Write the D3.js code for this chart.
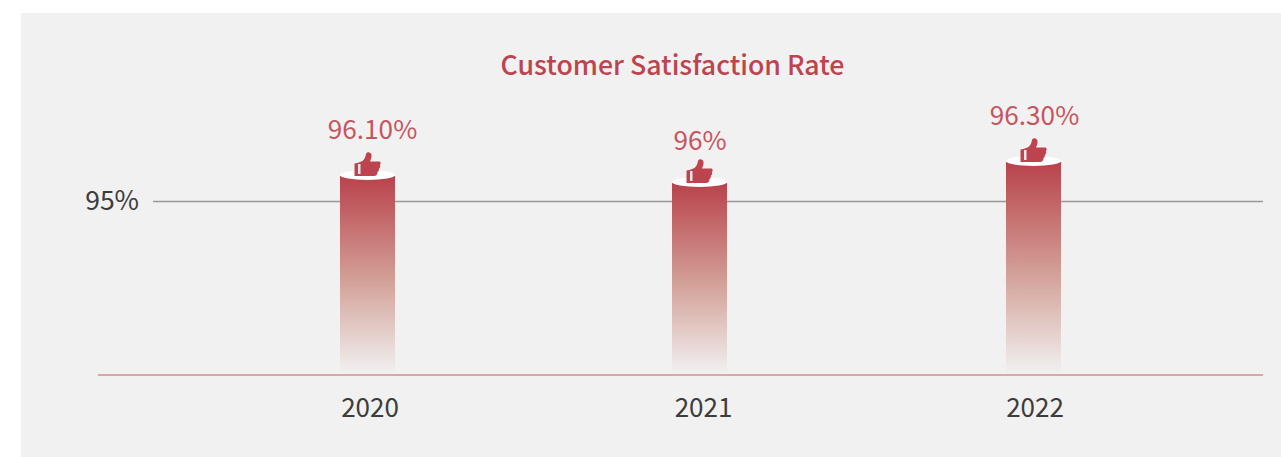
<!DOCTYPE html>
<html>
<head>
<meta charset="utf-8">
<script src="https://cdn.jsdelivr.net/npm/d3@7"></script>
<style>
  html, body { margin: 0; padding: 0; background: #fff; }
  svg { display: block; }
  text { font-family: "Noto Sans CJK SC", "Noto Sans", sans-serif; }
</style>
</head>
<body>
<div id="chartContainer"></div>
<script>
var WIDTH = 1281;
var HEIGHT = 457;
var RED = "#bd444e";
var PANEL = "#f1f1f1";

var years = ["2020", "2021", "2022"];
var rates = [96.1, 96, 96.3];
var rateLabels = ["96.10%", "96%", "96.30%"];
var yTicks = [95];
var yTickLabels = ["95%"];

var svg = d3.select("#chartContainer").append("svg")
  .attr("width", WIDTH)
  .attr("height", HEIGHT);

// grey panel
svg.append("rect")
  .attr("x", 21).attr("y", 13)
  .attr("width", WIDTH - 21).attr("height", HEIGHT - 13)
  .attr("fill", PANEL);

var grad = svg.append("defs").append("linearGradient")
  .attr("id", "barFill")
  .attr("x1", 0).attr("y1", 0).attr("x2", 0).attr("y2", 1);
grad.append("stop").attr("offset", "0%").attr("stop-color", "#b9424c");
grad.append("stop").attr("offset", "50%").attr("stop-color", "#d19c92");
grad.append("stop").attr("offset", "100%").attr("stop-color", PANEL);

var BAR_W = 55;
var x = d3.scaleOrdinal().domain(years).range([367.5, 699.5, 1033.5]);

// the source axis is not linear, 95% sits far above the bottom
var y = d3.scaleLinear()
  .domain([90, 95, 96, 96.3])
  .range([374, 201, 183, 162]);

// 95% line
var yAxis = d3.axisLeft(y)
  .tickValues(yTicks)
  .tickFormat(function (d, i) { return yTickLabels[i]; })
  .tickSize(0)
  .tickPadding(14);
var yG = svg.append("g")
  .attr("transform", "translate(153,0)")
  .call(yAxis);
yG.select(".domain").remove();
yG.selectAll("text")
  .style("font-size", "26.5px")
  .style("fill", "#3c3c3c");
svg.selectAll("line.grid")
  .data(yTicks)
  .enter().append("line")
  .attr("class", "grid")
  .attr("x1", 153).attr("x2", 1263)
  .attr("y1", function (d) { return y(d) + 0.5; })
  .attr("y2", function (d) { return y(d) + 0.5; })
  .attr("stroke", "#999")
  .attr("stroke-width", 1.5);

// bars
var data = years.map(function (d, i) {
  return { year: d, rate: rates[i], label: rateLabels[i] };
});

var bars = svg.selectAll("g.bar")
  .data(data)
  .enter().append("g")
  .attr("class", "bar")
  .attr("transform", function (d) { return "translate(" + x(d.year) + ",0)"; });

bars.append("rect")
  .attr("x", -BAR_W / 2)
  .attr("y", function (d) { return y(d.rate); })
  .attr("width", BAR_W)
  .attr("height", function (d) { return y(90) - y(d.rate); })
  .attr("fill", "url(#barFill)");

bars.append("ellipse")
  .attr("cx", 0)
  .attr("cy", function (d) { return y(d.rate) - 1; })
  .attr("rx", BAR_W / 2)
  .attr("ry", 5)
  .attr("fill", "#fff");

// thumbs up icon, 26 wide and 24 high, sits on the ellipse
var THUMB = "M0,11.5 L3,11 L8,9 C10,7 11,5 11.5,2 C12,-0.5 16.5,-0.5 17,3 C17.3,5 16.5,7 15.5,9.5 L24.5,9.5 C26.5,9.5 26.5,12 25.5,13 C26,14.5 25.5,16 24.5,16.5 C24.5,18 24,19.5 23,20 C23,22.5 21.5,24 19.5,24 L0,24 Z";
bars.append("path")
  .attr("d", THUMB)
  .attr("transform", function (d) { return "translate(-13," + (y(d.rate) - 24) + ")"; })
  .attr("fill", RED);
bars.append("rect")
  .attr("x", -9.5)
  .attr("y", function (d) { return y(d.rate) - 12; })
  .attr("width", 2.5)
  .attr("height", 10)
  .attr("fill", "#f4e4e4");

// value labels do not sit evenly over the bars in the source
var labelShiftX = [5, 0.5, 1];
var labelShiftY = [-37, -33, -37];
bars.append("text")
  .attr("x", function (d, i) { return labelShiftX[i]; })
  .attr("y", function (d, i) { return y(d.rate) + labelShiftY[i]; })
  .attr("text-anchor", "middle")
  .style("font-size", "26.2px")
  .style("fill", "#c65560")
  .text(function (d) { return d.label; });

// baseline and year labels
svg.append("line")
  .attr("x1", 98).attr("x2", 1263)
  .attr("y1", 375).attr("y2", 375)
  .attr("stroke", "#d38c8f")
  .attr("stroke-width", 1.4);

var xAxis = d3.axisBottom(x).tickSize(0).tickPadding(24);
var xG = svg.append("g")
  .attr("transform", "translate(0,375)")
  .call(xAxis);
xG.select(".domain").remove();
var tickShift = [2, 3.5, 1];
xG.selectAll("text")
  .attr("dx", function (d, i) { return tickShift[i]; })
  .style("font-size", "26px")
  .style("fill", "#3c3c3c");

svg.append("text")
  .attr("x", 672.5)
  .attr("y", 75)
  .attr("text-anchor", "middle")
  .style("font-size", "26.7px")
  .style("font-weight", 500)
  .style("fill", RED)
  .text("Customer Satisfaction Rate");
</script>
</body>
</html>
